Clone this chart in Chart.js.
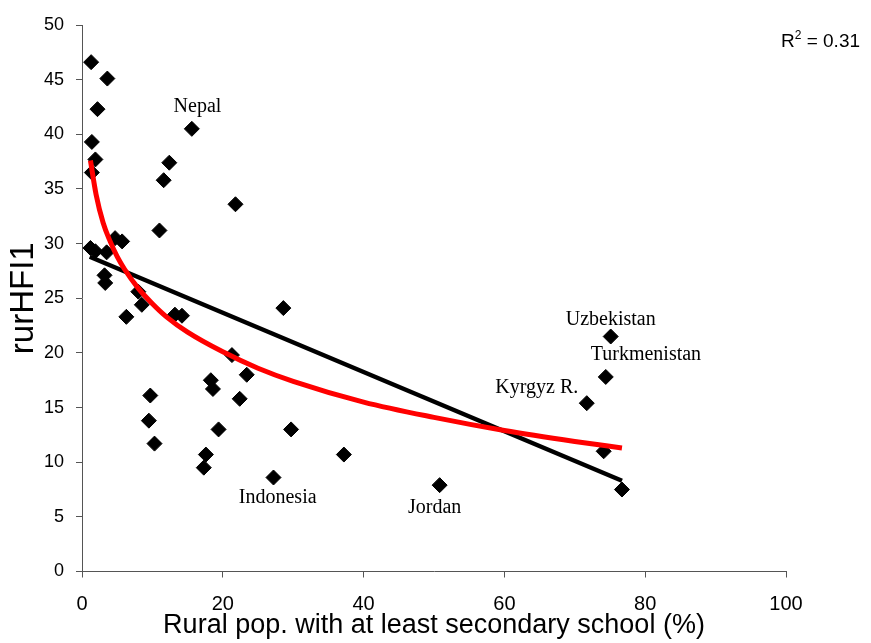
<!DOCTYPE html>
<html lang="en">
<head>
  <meta charset="UTF-8">
  <title>rurHFI1 vs rural secondary schooling</title>
  <script src="https://cdn.jsdelivr.net/npm/chart.js"></script>
  <style>
    html, body { margin: 0; padding: 0; background: #fff; }
    canvas { display: block; }
  </style>
</head>
<body>
  <canvas id="scatterChart" width="871" height="643"></canvas>

  <script>
    // rural pop. with at least secondary school (%) and rurHFI1
    const schoolPct = [1.3, 3.6, 2.2, 1.4, 1.9, 1.4, 15.6, 12.4, 11.6, 21.8, 11.0,
      1.2, 1.9, 3.5, 4.7, 5.7, 3.2, 3.3, 8.0, 8.5, 6.3, 13.2, 14.2, 28.6,
      21.3, 23.4, 18.3, 18.6, 22.4, 9.7, 9.5, 10.3, 19.4, 29.7, 17.6, 17.3,
      27.2, 37.2, 50.8, 75.1, 74.4, 71.7, 74.1, 76.7];
    const hfiValues = [46.6, 45.1, 42.3, 39.3, 37.7, 36.5, 40.5, 37.4, 35.8, 33.6, 31.2,
      29.6, 29.3, 29.2, 30.5, 30.2, 27.1, 26.4, 25.6, 24.4, 23.3, 23.5, 23.4, 24.1,
      19.8, 18.0, 17.5, 16.7, 15.8, 16.1, 13.8, 11.7, 13.0, 13.0, 10.7, 9.5,
      8.6, 10.7, 7.9, 21.5, 17.8, 15.4, 11.0, 7.5];

    // linear trend line end points
    const linearX = [1.1, 76.7];
    const linearY = [28.8, 8.3];

    // logarithmic trend curve
    const logX = [1.2, 2, 3, 4, 5, 6, 8, 10, 12, 15, 20, 25, 30, 40, 50, 60, 70, 76.7];
    const logY = [37.6, 34.5, 31.9, 30.2, 28.8, 27.7, 25.9, 24.5, 23.3, 21.9, 20.1, 18.6, 17.4, 15.5, 14.1, 12.9, 11.9, 11.3];

    // country labels
    const labelNames = ['Nepal', 'Uzbekistan', 'Turkmenistan', 'Kyrgyz R.', 'Indonesia', 'Jordan'];
    const labelX = [16.4, 75.1, 80.1, 64.6, 27.8, 50.1];
    const labelY = [42.5, 23.0, 19.8, 16.85, 6.72, 5.84];

    const r2Text = '0.31';

    const toPoints = (xs, ys) => xs.map((x, i) => ({ x, y: ys[i] }));

    const labelsPlugin = {
      id: 'countryLabels',
      afterDatasetsDraw(chart) {
        const { ctx, scales: { x, y } } = chart;
        ctx.save();
        ctx.fillStyle = '#000';
        ctx.font = '20px "Liberation Serif", "Times New Roman", serif';
        ctx.textAlign = 'center';
        ctx.textBaseline = 'middle';
        labelNames.forEach((name, i) => {
          ctx.fillText(name, x.getPixelForValue(labelX[i]), y.getPixelForValue(labelY[i]));
        });

        // R² in the top right corner
        ctx.textAlign = 'left';
        ctx.textBaseline = 'alphabetic';
        let px = 781;
        const base = 47;
        ctx.font = '19px "Liberation Sans", Arial, sans-serif';
        ctx.fillText('R', px, base);
        px += ctx.measureText('R').width;
        ctx.font = '12px "Liberation Sans", Arial, sans-serif';
        ctx.fillText('2', px, base - 8);
        px += ctx.measureText('2').width;
        ctx.font = '19px "Liberation Sans", Arial, sans-serif';
        ctx.fillText(' = ' + r2Text, px, base);
        ctx.restore();
      }
    };

    const ctx = document.getElementById('scatterChart').getContext('2d');
    new Chart(ctx, {
      type: 'scatter',
      data: {
        datasets: [
          {
            label: 'Log trend',
            type: 'line',
            data: toPoints(logX, logY),
            borderColor: '#ff0000',
            borderWidth: 5,
            pointRadius: 0,
            cubicInterpolationMode: 'monotone',
            fill: false,
            order: 0
          },
          {
            label: 'Linear trend',
            type: 'line',
            data: toPoints(linearX, linearY),
            borderColor: '#000',
            borderWidth: 4.5,
            pointRadius: 0,
            fill: false,
            order: 1
          },
          {
            label: 'Countries',
            data: toPoints(schoolPct, hfiValues),
            pointStyle: 'rectRot',
            pointRadius: 7.5,
            backgroundColor: '#000',
            borderColor: '#000',
            borderWidth: 1,
            order: 2
          }
        ]
      },
      options: {
        responsive: false,
        animation: false,
        devicePixelRatio: 1,
        layout: { padding: { top: 25, right: 85, bottom: 0, left: 0 } },
        plugins: {
          legend: { display: false },
          tooltip: { enabled: false }
        },
        scales: {
          x: {
            type: 'linear',
            min: 0,
            max: 100,
            afterFit: s => { s.height = 71.5; },
            ticks: {
              stepSize: 20,
              color: '#000',
              padding: 15,
              font: { family: '"Liberation Sans", Arial, sans-serif', size: 20 }
            },
            grid: { drawOnChartArea: false, drawTicks: true, tickLength: 6, color: '#555' },
            border: { display: true, color: '#555', width: 1 },
            title: {
              display: true,
              text: 'Rural pop. with at least secondary school (%)',
              color: '#000',
              padding: { top: 0, bottom: 1 },
              font: { family: '"Liberation Sans", Arial, sans-serif', size: 27 }
            }
          },
          y: {
            min: 0,
            max: 50,
            afterFit: s => { s.width = 82; },
            ticks: {
              stepSize: 5,
              color: '#000',
              padding: 12,
              font: { family: '"Liberation Sans", Arial, sans-serif', size: 18 }
            },
            grid: { drawOnChartArea: false, drawTicks: true, tickLength: 6, color: '#555' },
            border: { display: true, color: '#555', width: 1 },
            title: {
              display: true,
              text: 'rurHFI1',
              color: '#000',
              padding: { top: 4, bottom: 0 },
              font: { family: '"Liberation Sans", Arial, sans-serif', size: 33 }
            }
          }
        }
      },
      plugins: [labelsPlugin]
    });
  </script>
</body>
</html>
